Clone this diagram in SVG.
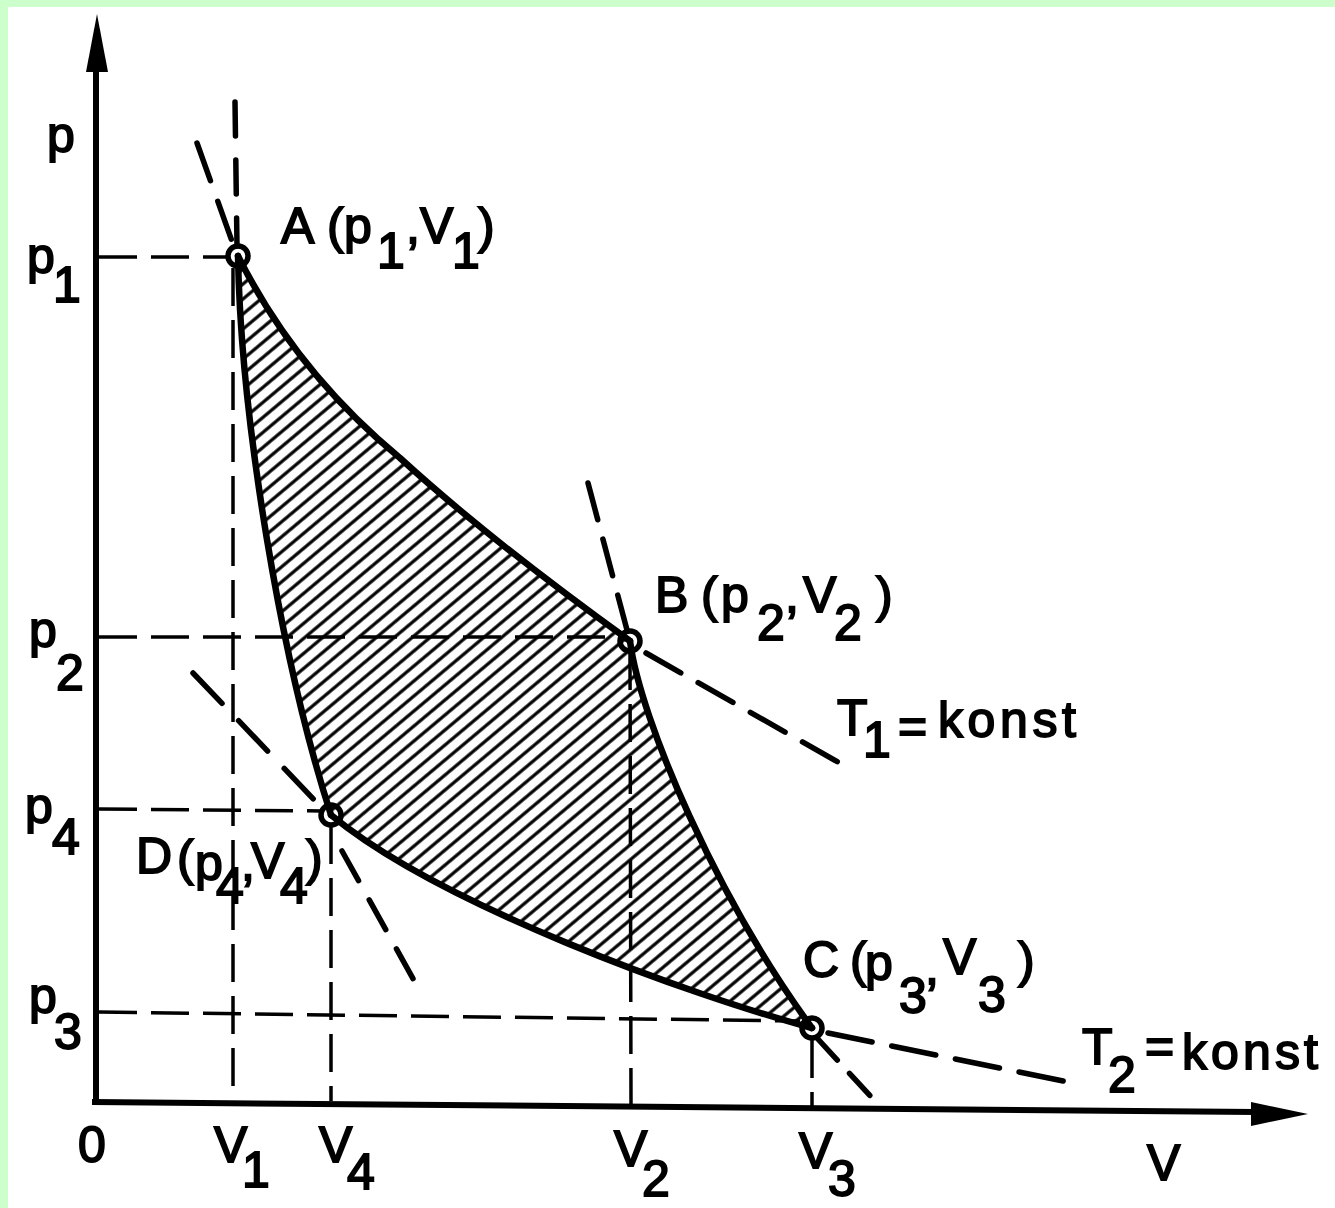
<svg xmlns="http://www.w3.org/2000/svg" width="1335" height="1208" viewBox="0 0 1335 1208">
<style>
.t{font-family:"Liberation Sans","DejaVu Sans",sans-serif;font-size:50px;fill:#000;stroke:#000;stroke-width:1.8}
.curve{fill:none;stroke:#000;stroke-width:6.5;stroke-linejoin:round;stroke-linecap:round}
.grid{fill:none;stroke:#000;stroke-width:3.5;stroke-dasharray:38 14}
.ext{fill:none;stroke:#000;stroke-width:5.5;stroke-linecap:round}
.axis{fill:none;stroke:#000;stroke-width:6}
.pt{fill:none;stroke:#000;stroke-width:5.5}
</style>
<defs>
<pattern id="hatch" patternUnits="userSpaceOnUse" width="20" height="11.5" patternTransform="rotate(-40)">
<line x1="-2" y1="5.75" x2="22" y2="5.75" stroke="#000" stroke-width="3.2"/>
</pattern>
</defs>
<rect x="0" y="0" width="1335" height="1208" fill="#fff"/>
<rect x="0" y="0" width="1335" height="7" fill="#ccffcc"/>
<rect x="0" y="0" width="8" height="1208" fill="#ccffcc"/>

<g id="axes">
<line class="axis" x1="96" y1="66" x2="96" y2="1104"/>
<polygon points="97,14 108,72 86,72" fill="#000"/>
<line class="axis" x1="92" y1="1102" x2="1256" y2="1112"/>
<polygon points="1308,1114 1251,1102 1251,1126" fill="#000"/>
<text class="t" x="47" y="152">p</text>
<text class="t" x="27" y="273">p</text><text class="t" x="53" y="302">1</text>
<text class="t" x="29" y="647">p</text><text class="t" x="56" y="690">2</text>
<text class="t" x="25" y="823">p</text><text class="t" x="52" y="854">4</text>
<text class="t" x="29" y="1013">p</text><text class="t" x="54" y="1049">3</text>
<text class="t" x="78" y="1162">0</text>
<text class="t" x="214" y="1162">V</text><text class="t" x="242" y="1187">1</text>
<text class="t" x="319" y="1162">V</text><text class="t" x="347" y="1189">4</text>
<text class="t" x="614" y="1166">V</text><text class="t" x="642" y="1196">2</text>
<text class="t" x="799" y="1168">V</text><text class="t" x="828" y="1196">3</text>
<text class="t" x="1147" y="1180">V</text>
</g>

<g id="work-area">
<path d="M238,256 C275,330 330,400 400,458 C472,524 551,584 630,641 C640,720 718,900 812,1028 C690,995 440,905 331,815 C281,660 241,420 238,256 Z" fill="url(#hatch)"/>
</g>

<g id="connectors">
<line class="grid" x1="99" y1="257" x2="228" y2="257"/>
<line class="grid" x1="99" y1="637" x2="622" y2="637"/>
<line class="grid" x1="99" y1="809" x2="322" y2="811"/>
<line class="grid" x1="99" y1="1012" x2="800" y2="1021"/>
<line class="grid" x1="233" y1="268" x2="233" y2="1100"/>
<line class="grid" x1="331" y1="826" x2="331" y2="1101"/>
<line class="grid" x1="630" y1="652" x2="631" y2="1104"/>
<line class="grid" x1="812" y1="1040" x2="812" y2="1107"/>

<path class="curve" d="M238,256 C275,330 330,400 400,458 C472,524 551,584 630,641"/>
<path class="curve" d="M630,641 C640,720 718,900 812,1028"/>
<path class="curve" d="M331,815 C440,905 690,995 812,1028"/>
<path class="curve" d="M238,256 C241,420 281,660 331,815"/>

<line class="ext" x1="235" y1="102" x2="237" y2="246" stroke-dasharray="34 24"/>
<line class="ext" x1="197" y1="143" x2="233" y2="244" stroke-dasharray="40 22"/>
<line class="ext" x1="588" y1="483" x2="627" y2="630" stroke-dasharray="38 20"/>
<line class="ext" x1="646" y1="653" x2="843" y2="765" stroke-dasharray="40 20"/>
<line class="ext" x1="193" y1="673" x2="322" y2="808" stroke-dasharray="42 24"/>
<line class="ext" x1="342" y1="851" x2="416" y2="984" stroke-dasharray="34 22"/>
<line class="ext" x1="828" y1="1033" x2="1068" y2="1082" stroke-dasharray="45 20"/>
<line class="ext" x1="817" y1="1038" x2="874" y2="1100" stroke-dasharray="30 18"/>
</g>

<g id="node-A">
<circle class="pt" cx="238" cy="256" r="10"/>
<text class="t" x="281" y="243">A</text><text class="t" x="327" y="243">(</text><text class="t" x="344" y="243">p</text><text class="t" x="377" y="268">1</text><text class="t" x="406" y="243">,</text><text class="t" x="420" y="243">V</text><text class="t" x="452" y="268">1</text><text class="t" x="478" y="243">)</text>
</g>

<g id="node-B">
<circle class="pt" cx="630" cy="641" r="10"/>
<text class="t" x="655" y="612">B</text><text class="t" x="701" y="612">(</text><text class="t" x="721" y="612">p</text><text class="t" x="757" y="640">2</text><text class="t" x="785" y="612">,</text><text class="t" x="803" y="612">V</text><text class="t" x="834" y="640">2</text><text class="t" x="876" y="612">)</text>
</g>

<g id="node-C">
<circle class="pt" cx="812" cy="1028" r="10"/>
<text class="t" x="803" y="977">C</text><text class="t" x="850" y="977">(</text><text class="t" x="865" y="980">p</text><text class="t" x="899" y="1013">3</text><text class="t" x="925" y="984">,</text><text class="t" x="943" y="974">V</text><text class="t" x="978" y="1012">3</text><text class="t" x="1018" y="977">)</text>
</g>

<g id="node-D">
<circle class="pt" cx="331" cy="815" r="10"/>
<text class="t" x="136" y="873">D</text><text class="t" x="177" y="875">(</text><text class="t" x="195" y="880">p</text><text class="t" x="216" y="903">4</text><text class="t" x="241" y="880">,</text><text class="t" x="251" y="878">V</text><text class="t" x="280" y="903">4</text><text class="t" x="306" y="875">)</text>
</g>

<g id="label-T1">
<text class="t" x="837" y="735">T</text><text class="t" x="863" y="757">1</text><text class="t" x="898" y="743">=</text><text class="t" x="938" y="737" textLength="138" lengthAdjust="spacing">konst</text>
</g>

<g id="label-T2">
<text class="t" x="1082" y="1064">T</text><text class="t" x="1108" y="1092">2</text><text class="t" x="1145" y="1063">=</text><text class="t" x="1182" y="1069" textLength="136" lengthAdjust="spacing">konst</text>
</g>
</svg>
